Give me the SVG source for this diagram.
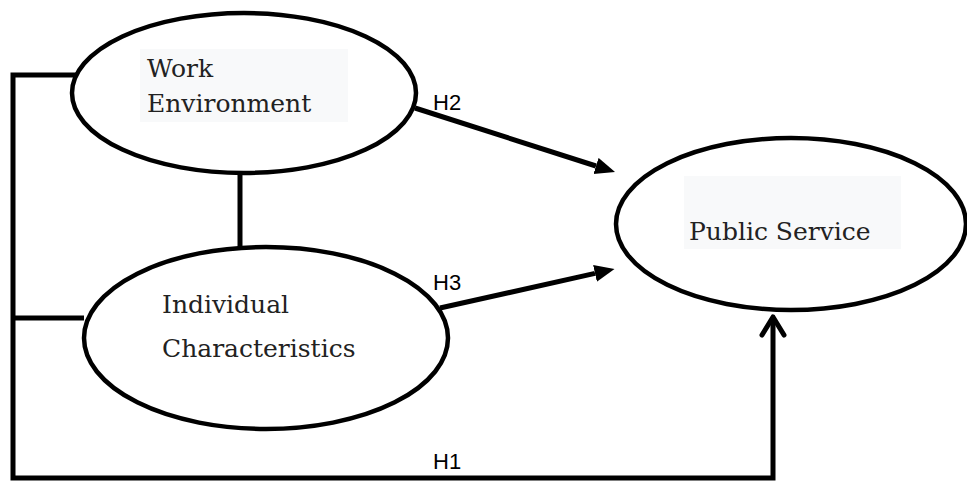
<svg xmlns="http://www.w3.org/2000/svg" width="967" height="482" viewBox="0 0 967 482">
<style>
.node ellipse{fill:#fff;stroke:#000;stroke-width:4.5}
.lbl{font-family:"DejaVu Serif","Liberation Serif",serif;font-size:25px;fill:#222}
.tbg{fill:#f8f9fa}
.h{font-family:"Liberation Sans","Open Sans",sans-serif;font-size:22px;fill:#000}
.conn line,.conn polyline{stroke:#000;stroke-width:5;fill:none}
</style>
<defs>
<marker id="ah" markerUnits="userSpaceOnUse" markerWidth="21" markerHeight="18" refX="0" refY="9" orient="auto">
<path d="M0,0.5 L20,9 L0,17.5 z" fill="#000"/>
</marker>
</defs>
<g class="conn">
<polyline points="92,75 13,75 13,478 773,478 773,318"/>
<line x1="13" y1="318" x2="84" y2="318"/>
<line x1="240" y1="172" x2="240" y2="248"/>
<line x1="415" y1="108" x2="596" y2="166" marker-end="url(#ah)"/>
<line x1="440" y1="308" x2="595" y2="273.4" marker-end="url(#ah)"/>
<polyline points="762,335 773,317 784,335" stroke-linejoin="round" stroke-linecap="round"/>
</g>
<g id="work-environment" class="node">
<ellipse cx="244" cy="93" rx="172" ry="80"/>
<rect class="tbg" x="140" y="49" width="208" height="73"/>
<text class="lbl" x="147" y="77">Work</text>
<text class="lbl" x="147" y="112">Environment</text>
</g>
<g id="individual-characteristics" class="node">
<ellipse cx="266" cy="338" rx="182" ry="91"/>
<text class="lbl" x="162" y="313">Individual</text>
<text class="lbl" x="162" y="357">Characteristics</text>
</g>
<g id="public-service" class="node">
<ellipse cx="791" cy="224" rx="175" ry="86"/>
<rect class="tbg" x="684" y="176" width="217" height="73"/>
<text class="lbl" x="689" y="240">Public Service</text>
</g>
<g id="labels">
<text class="h" x="433" y="110">H2</text>
<text class="h" x="433" y="290">H3</text>
<text class="h" x="433" y="469">H1</text>
</g>
</svg>
